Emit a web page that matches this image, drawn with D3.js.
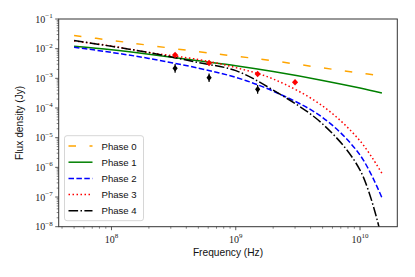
<!DOCTYPE html>
<html><head><meta charset="utf-8">
<script src="https://cdn.jsdelivr.net/npm/d3@7"></script>
<style>body{margin:0;background:#fff}svg{display:block}</style>
</head><body>
<svg id="chart" width="415" height="277"></svg>
<script>
// ---- data ----
const freqs  = [5e7, 1e8, 2e8, 5e8, 1e9, 2e9, 5e9, 1e10, 1.5e10];
const phase0 = [2.78e-2, 1.91e-2, 1.30e-2, 7.9e-3, 5.6e-3, 3.9e-3, 2.25e-3, 1.52e-3, 1.22e-3];
const phase1 = [1.21e-2, 9.2e-3, 6.5e-3, 3.9e-3, 2.65e-3, 1.69e-3, 8.5e-4, 4.7e-4, 3.2e-4];
const phase2 = [1.12e-2, 7.5e-3, 4.7e-3, 2.2e-3, 1.08e-3, 3.7e-4, 4.8e-5, 2.6e-6, 9.5e-8];
const phase3 = [1.82e-2, 1.23e-2, 7.4e-3, 4.3e-3, 2.3e-3, 9.5e-4, 1.17e-4, 7.8e-6, 6.3e-7];
const phase4 = [1.88e-2, 1.20e-2, 7.4e-3, 3.4e-3, 1.82e-3, 4.0e-4, 2.9e-5, 8.1e-7, 3.9e-9];
const seriesNames = ["Phase 0", "Phase 1", "Phase 2", "Phase 3", "Phase 4"];

const redFreq  = [3.25e8, 6.1e8, 1.5e9, 3.0e9];
const redFlux  = [6.1e-3, 3.3e-3, 1.4e-3, 7.4e-4];
const blackFreq = [3.25e8, 6.1e8, 1.5e9];
const blackFlux = [2.18e-3, 1.05e-3, 4.27e-4];
const blackErrLo = [1.55e-3, 0.75e-3, 3.05e-4];
const blackErrHi = [3.05e-3, 1.47e-3, 6.0e-4];

const xTicks = [1e8, 1e9, 1e10];
const xTickExp = ["8", "9", "10"];
const yTicks = [1e-8, 1e-7, 1e-6, 1e-5, 1e-4, 1e-3, 1e-2, 1e-1];
const yTickExp = ["−8", "−7", "−6", "−5", "−4", "−3", "−2", "−1"];

// ---- layout ----
const svg = d3.select("#chart");
const L = 58.7, R = 397.3, T = 19, B = 226.7;
const x = d3.scaleLog().domain([3.76e7, 1.995e10]).range([L, R]);
const y = d3.scaleLog().domain([1e-8, 1e-1]).range([B, T]);

const styles = [
  {color: "#FFA500", dash: "7.5,13.5"},
  {color: "#008000", dash: null},
  {color: "#0000FF", dash: "5.5,2.4"},
  {color: "#FF0000", dash: "1.5,2.5"},
  {color: "#000000", dash: "9.6,2.4,1.5,2.4"}
];
const allSeries = [phase0, phase1, phase2, phase3, phase4];

svg.append("defs").append("clipPath").attr("id", "clip")
  .append("rect").attr("x", L).attr("y", T).attr("width", R - L).attr("height", B - T);

const line = d3.line().x(d => x(d[0])).y(d => y(d[1])).curve(d3.curveCatmullRom.alpha(0.5));
const plot = svg.append("g").attr("clip-path", "url(#clip)");
allSeries.forEach((s, i) => {
  plot.append("path")
    .attr("d", line(freqs.map((f, j) => [f, s[j]])))
    .attr("fill", "none").attr("stroke", styles[i].color)
    .attr("stroke-width", 1.5)
    .attr("stroke-dasharray", styles[i].dash);
});

// black points with error bars
blackFreq.forEach((f, i) => {
  plot.append("line").attr("x1", x(f)).attr("x2", x(f))
    .attr("y1", y(blackErrLo[i])).attr("y2", y(blackErrHi[i]))
    .attr("stroke", "#000").attr("stroke-width", 1.2);
});
const diamond = (cx, cy, w, h) => `M${cx},${cy-h}L${cx+w},${cy}L${cx},${cy+h}L${cx-w},${cy}Z`;
blackFreq.forEach((f, i) => {
  plot.append("path").attr("d", diamond(x(f), y(blackFlux[i]), 2.6, 3.4)).attr("fill", "#000");
});
redFreq.forEach((f, i) => {
  plot.append("path").attr("d", diamond(x(f), y(redFlux[i]), 3.1, 3.3)).attr("fill", "#FF0000");
});

// ---- axes ----
const axisColor = "#333";
const xAxis = svg.append("g");
const xMinor = [];
[1e7, 1e8, 1e9, 1e10].forEach(d => { for (let k = 2; k <= 9; k++) { const v = d * k; if (v >= 3.76e7 && v <= 1.995e10) xMinor.push(v); } });
xMinor.forEach(v => xAxis.append("line").attr("x1", x(v)).attr("x2", x(v)).attr("y1", B).attr("y2", B + 2)
  .attr("stroke", axisColor).attr("stroke-width", 0.6));
xTicks.forEach((v, i) => {
  xAxis.append("line").attr("x1", x(v)).attr("x2", x(v)).attr("y1", B).attr("y2", B + 3.5)
    .attr("stroke", axisColor).attr("stroke-width", 0.8);
  const t = xAxis.append("text").attr("x", x(v)).attr("y", B + 16).attr("text-anchor", "middle")
    .attr("font-family", "Liberation Serif, DejaVu Serif, serif").attr("font-size", 10).attr("fill", "#222");
  t.append("tspan").text("10");
  t.append("tspan").attr("dy", -4.5).attr("font-size", 7).text(xTickExp[i]);
});

const yAxis = svg.append("g");
yTicks.forEach((v, i) => {
  if (i < yTicks.length - 1) {
    for (let k = 2; k <= 9; k++) {
      yAxis.append("line").attr("x1", L - 2).attr("x2", L).attr("y1", y(v * k)).attr("y2", y(v * k))
        .attr("stroke", axisColor).attr("stroke-width", 0.6);
    }
  }
  yAxis.append("line").attr("x1", L - 3.5).attr("x2", L).attr("y1", y(v)).attr("y2", y(v))
    .attr("stroke", axisColor).attr("stroke-width", 0.8);
  const t = yAxis.append("text").attr("x", L - 6).attr("y", y(v) + 3.5).attr("text-anchor", "end")
    .attr("font-family", "Liberation Serif, DejaVu Serif, serif").attr("font-size", 10).attr("fill", "#222");
  t.append("tspan").text("10");
  t.append("tspan").attr("dy", -4.5).attr("font-size", 7).text(yTickExp[i]);
});

svg.append("rect").attr("x", L).attr("y", T).attr("width", R - L).attr("height", B - T)
  .attr("fill", "none").attr("stroke", axisColor).attr("stroke-width", 1);

svg.append("text").attr("x", (L + R) / 2).attr("y", 256).attr("text-anchor", "middle")
  .attr("font-family", "Liberation Sans, Arial, sans-serif").attr("font-size", 10.2).attr("fill", "#111")
  .text("Frequency (Hz)");
svg.append("text").attr("transform", `translate(23,${(T + B) / 2}) rotate(-90)`).attr("text-anchor", "middle")
  .attr("font-family", "Liberation Sans, Arial, sans-serif").attr("font-size", 10.2).attr("fill", "#111")
  .text("Flux density (Jy)");

// ---- legend ----
const lg = svg.append("g");
lg.append("rect").attr("x", 64.5).attr("y", 135.7).attr("width", 79).attr("height", 85).attr("rx", 2.5)
  .attr("fill", "#fff").attr("fill-opacity", 0.8).attr("stroke", "#cccccc").attr("stroke-width", 0.8);
seriesNames.forEach((n, i) => {
  const yy = 146 + i * 16.2;
  lg.append("line").attr("x1", 68.5).attr("x2", 92.5).attr("y1", yy).attr("y2", yy)
    .attr("stroke", styles[i].color).attr("stroke-width", 1.5).attr("stroke-dasharray", styles[i].dash);
  lg.append("text").attr("x", 101.5).attr("y", yy + 3.5)
    .attr("font-family", "Liberation Sans, Arial, sans-serif").attr("font-size", 9.6).attr("fill", "#111")
    .text(n);
});
</script>
</body></html>
